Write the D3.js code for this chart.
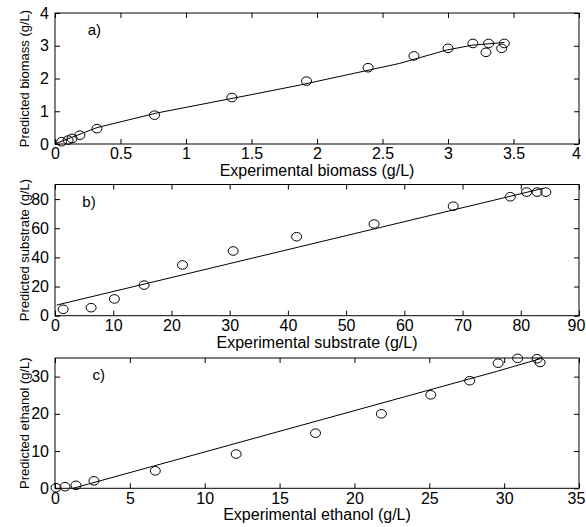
<!DOCTYPE html>
<html>
<head>
<meta charset="utf-8">
<script src="https://cdn.jsdelivr.net/npm/d3@7"></script>
<style>
  body { margin: 0; background: #fff; }
  svg text { font-family: "Liberation Sans", Arial, sans-serif; fill: #000; }
</style>
</head>
<body>
<div id="chart"></div>
<script>
// panel a) biomass
var biomassExp  = [0.05, 0.10, 0.13, 0.19, 0.32, 0.76, 1.35, 1.92, 2.39, 2.74, 3.00, 3.19, 3.31, 3.29, 3.41, 3.43];
var biomassPred = [0.07, 0.12, 0.17, 0.27, 0.47, 0.88, 1.42, 1.92, 2.33, 2.69, 2.92, 3.07, 3.07, 2.80, 2.92, 3.07];
var biomassFitX = [0.01, 0.32, 0.77, 1.49, 1.87, 2.63, 2.99, 3.19, 3.43];
var biomassFitY = [0.02, 0.50, 0.94, 1.50, 1.80, 2.46, 2.87, 3.02, 3.10];

// panel b) substrate
var substrateExp  = [1.4, 6.2, 10.2, 15.3, 21.9, 30.6, 41.5, 54.8, 68.4, 78.2, 81.0, 82.8, 84.3];
var substratePred = [4.4, 5.5, 11.5, 21.0, 34.8, 44.4, 54.2, 62.9, 75.1, 81.6, 84.8, 84.8, 84.8];
var substrateFitX = [0.3, 83.9];
var substrateFitY = [7.3, 87.4];

// panel c) ethanol
var ethanolExp  = [0.07, 0.67, 1.4, 2.6, 6.7, 12.1, 17.4, 21.8, 25.1, 27.7, 29.6, 30.9, 32.2, 32.4];
var ethanolPred = [0.16, 0.43, 0.8, 2.0, 4.7, 9.2, 14.8, 20.0, 25.1, 28.9, 33.6, 34.9, 34.8, 33.8];
var ethanolFitX = [1.2, 29.5, 32.4];
var ethanolFitY = [0.0, 31.4, 34.8];

var panels = [
  {tag: "a)", xs: biomassExp, ys: biomassPred, fx: biomassFitX, fy: biomassFitY,
   xMax: 4, yMax: 4, xTicks: [0, 0.5, 1, 1.5, 2, 2.5, 3, 3.5, 4], yTicks: [0, 1, 2, 3, 4],
   xLabel: "Experimental biomass (g/L)", yLabel: "Predicted biomass (g/L)",
   top: 13, bottom: 144, tagX: 0.25},
  {tag: "b)", xs: substrateExp, ys: substratePred, fx: substrateFitX, fy: substrateFitY,
   xMax: 90, yMax: 90, xTicks: d3.range(0, 91, 10), yTicks: [0, 20, 40, 60, 80],
   xLabel: "Experimental substrate (g/L)", yLabel: "Predicted substrate (g/L)",
   top: 184.5, bottom: 315.7, tagX: 4.7},
  {tag: "c)", xs: ethanolExp, ys: ethanolPred, fx: ethanolFitX, fy: ethanolFitY,
   xMax: 35, yMax: 35, xTicks: d3.range(0, 36, 5), yTicks: [0, 10, 20, 30],
   xLabel: "Experimental ethanol (g/L)", yLabel: "Predicted ethanol (g/L)",
   top: 358, bottom: 488.3, tagX: 2.5}
];

var W = 586, H = 527, left = 55, right = 579;
var fmt = d3.format("~g");

var svg = d3.select("#chart").append("svg")
    .attr("width", W)
    .attr("height", H);

panels.forEach(function(p) {
  var x = d3.scaleLinear().domain([0, p.xMax]).range([left, right]);
  var y = d3.scaleLinear().domain([0, p.yMax]).range([p.bottom, p.top]);
  var g = svg.append("g");

  // inward ticks on all four sides (matlab style)
  var axes = [
    {ax: d3.axisBottom(x).tickValues(p.xTicks).tickFormat(fmt).tickPadding(4), t: "translate(0," + p.bottom + ")"},
    {ax: d3.axisTop(x).tickValues(p.xTicks).tickFormat(""), t: "translate(0," + p.top + ")"},
    {ax: d3.axisLeft(y).tickValues(p.yTicks).tickFormat(fmt).tickPadding(6), t: "translate(" + left + ",0)"},
    {ax: d3.axisRight(y).tickValues(p.yTicks).tickFormat(""), t: "translate(" + right + ",0)"}
  ];
  axes.forEach(function(a, i) {
    var ga = g.append("g").attr("transform", a.t)
      .call(a.ax.tickSizeInner(-5).tickSizeOuter(0));
    ga.select(".domain").remove();
    ga.selectAll("line").attr("stroke", "#000");
    ga.selectAll("text").attr("font-size", 16).attr("font-family", "Liberation Sans, Arial, sans-serif");
    // keep the last bottom label inside the page
    if (i === 0) ga.selectAll(".tick:last-of-type text").attr("x", -3);
  });

  g.append("rect")
    .attr("x", left).attr("y", p.top)
    .attr("width", right - left).attr("height", p.bottom - p.top)
    .attr("fill", "none").attr("stroke", "#000").attr("stroke-width", 1);

  var line = d3.line().x(function(d) { return x(d[0]); }).y(function(d) { return y(d[1]); });
  g.append("path")
    .datum(d3.zip(p.fx, p.fy))
    .attr("d", line)
    .attr("fill", "none").attr("stroke", "#000").attr("stroke-width", 1);

  g.selectAll("ellipse")
    .data(d3.zip(p.xs, p.ys))
    .enter().append("ellipse")
    .attr("cx", function(d) { return x(d[0]); })
    .attr("cy", function(d) { return y(d[1]); })
    .attr("rx", 5).attr("ry", 4.3)
    .attr("fill", "none").attr("stroke", "#000").attr("stroke-width", 1);

  g.append("text")
    .attr("x", x(p.tagX)).attr("y", p.top + 22)
    .attr("font-size", 15)
    .text(p.tag);

  g.append("text")
    .attr("x", (left + right) / 2).attr("y", p.bottom + 32)
    .attr("text-anchor", "middle").attr("font-size", 16)
    .text(p.xLabel);

  g.append("text")
    .attr("transform", "translate(29," + (p.top + p.bottom) / 2 + ") rotate(-90)")
    .attr("text-anchor", "middle").attr("font-size", 13)
    .text(p.yLabel);
});
</script>
</body>
</html>
